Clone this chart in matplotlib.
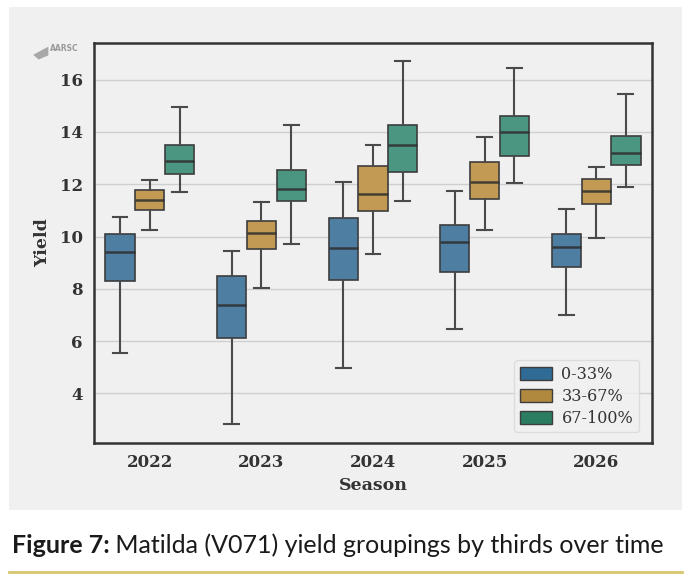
import matplotlib.pyplot as plt
from matplotlib.patches import Rectangle, Patch, Polygon
from matplotlib.lines import Line2D

# --- data ---
SEASONS = ["2022", "2023", "2024", "2025", "2026"]
GROUPS = ["0-33%", "33-67%", "67-100%"]

# per group: [season] -> (whislo, q1, med, q3, whishi)
LOW_THIRD = [
    (5.55, 8.29, 9.40, 10.11, 10.73),
    (2.81, 6.10, 7.37, 8.50, 9.46),
    (4.96, 8.33, 9.56, 10.71, 12.09),
    (6.48, 8.65, 9.78, 10.44, 11.76),
    (7.01, 8.82, 9.58, 10.10, 11.05),
]
MID_THIRD = [
    (10.26, 11.03, 11.41, 11.78, 12.16),
    (8.02, 9.51, 10.14, 10.60, 11.33),
    (9.32, 10.96, 11.63, 12.69, 13.51),
    (10.26, 11.42, 12.09, 12.86, 13.81),
    (9.93, 11.25, 11.76, 12.21, 12.67),
]
TOP_THIRD = [
    (11.72, 12.39, 12.90, 13.50, 14.96),
    (9.70, 11.37, 11.83, 12.53, 14.27),
    (11.37, 12.48, 13.49, 14.25, 16.71),
    (12.03, 13.07, 14.00, 14.60, 16.43),
    (11.90, 12.72, 13.18, 13.83, 15.45),
]

BOX_COLORS = ["#4e7fa3", "#c39a53", "#4b9680"]
LEGEND_COLORS = ["#2f6b94", "#b0893f", "#2b7d62"]
PANEL = "#f0f0f0"
SERIF = "DejaVu Serif"

fig = plt.figure(figsize=(6.91, 5.83), dpi=100)
fig.patch.set_facecolor("white")

# grey card behind the chart
fig.add_artist(
    Rectangle((0.013, 0.1252), 0.974, 0.8628, transform=fig.transFigure,
              facecolor=PANEL, edgecolor="none", zorder=-5)
)

ax = fig.add_axes([0.136, 0.2401, 0.8075, 0.686])
ax.set_facecolor(PANEL)

box_w = 0.8 / 3
for g, (series, color) in enumerate(zip([LOW_THIRD, MID_THIRD, TOP_THIRD], BOX_COLORS)):
    stats = []
    for lo, q1, med, q3, hi in series:
        stats.append({"whislo": lo, "q1": q1, "med": med, "q3": q3, "whishi": hi, "fliers": []})
    positions = [i + (g - 1) * box_w for i in range(len(SEASONS))]
    ax.bxp(
        stats,
        positions=positions,
        widths=box_w * 0.98,
        capwidths=box_w * 0.5,
        patch_artist=True,
        showfliers=False,
        boxprops=dict(facecolor=color, edgecolor="#3d3d3d", linewidth=1.2),
        whiskerprops=dict(color="#4a4a4a", linewidth=1.5),
        capprops=dict(color="#4a4a4a", linewidth=1.5),
        medianprops=dict(color="#2e2e2e", linewidth=1.8, alpha=0.85),
        zorder=3,
    )

ax.set_xlim(-0.5, 4.5)
ax.set_ylim(2.1, 17.4)
ax.set_xticks(range(len(SEASONS)))
ax.set_xticklabels(SEASONS)
ax.set_yticks([4, 6, 8, 10, 12, 14, 16])
ax.tick_params(length=0, pad=8, labelsize=12, labelcolor="#333333")
for lab in ax.get_xticklabels() + ax.get_yticklabels():
    lab.set_fontfamily(SERIF)
    lab.set_fontweight("bold")
ax.grid(axis="y", color="#cfcfcf", linewidth=1.0, zorder=0)
ax.set_axisbelow(True)
for s in ax.spines.values():
    s.set_color("#333333")
    s.set_linewidth(1.8)

ax.set_xlabel("Season", fontfamily=SERIF, fontweight="bold", fontsize=12.5,
              color="#333333", labelpad=4)
ax.set_ylabel("Yield", fontfamily=SERIF, fontweight="bold", fontsize=12.5,
              color="#333333", labelpad=6)

handles = [Patch(facecolor=c, edgecolor="#3d3d3d", linewidth=1.0) for c in LEGEND_COLORS]
leg = ax.legend(handles, GROUPS, loc="lower right", frameon=True, fancybox=True,
                prop={"family": SERIF, "size": 11.5}, borderpad=0.35,
                handlelength=2.0, handleheight=0.9, labelspacing=0.3,
                handletextpad=0.6, borderaxespad=0.3,
                bbox_to_anchor=(0.985, 0.015))
leg.get_frame().set_facecolor(PANEL)
leg.get_frame().set_edgecolor("#d8d8d8")
for t in leg.get_texts():
    t.set_color("#333333")

# small logo mark
fig.add_artist(Polygon([[0.048, 0.906], [0.07, 0.92], [0.07, 0.905], [0.056, 0.898]],
                       closed=True, transform=fig.transFigure,
                       facecolor="#a8a8a8", edgecolor="none"))
fig.text(0.072, 0.913, "AARSC", fontsize=5.5, color="#9a9a9a", fontweight="bold")

# caption
cap1 = fig.text(0.017, 0.065, "Figure 7:", fontsize=18, fontfamily="Lato",
                fontweight="bold", color="#1a1a1a", va="center")
ax.annotate(" Matilda (V071) yield groupings by thirds over time",
            xy=(1, 0.5), xycoords=cap1, va="center", ha="left",
            fontsize=18, fontfamily="Lato", color="#1a1a1a",
            annotation_clip=False)

fig.add_artist(Line2D([0.013, 0.987], [0.019, 0.019], transform=fig.transFigure,
                      color="#d8c66e", linewidth=2.0))

fig.savefig("out.png", dpi=100)
